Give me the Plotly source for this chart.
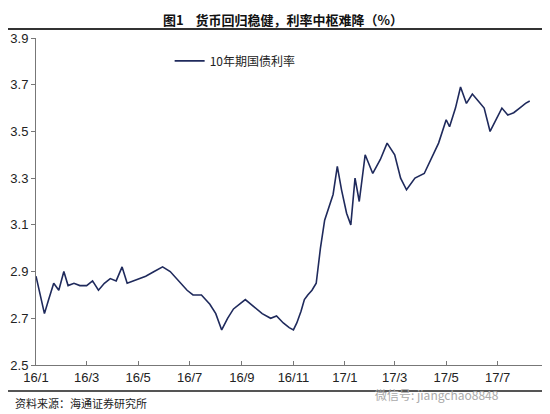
import plotly.graph_objects as go

dates = ["2016-01-01","2016-01-06","2016-01-11","2016-01-16","2016-01-22","2016-01-28","2016-02-03","2016-02-08",
"2016-02-15","2016-02-22","2016-03-01","2016-03-08","2016-03-15","2016-03-22","2016-03-29","2016-04-05",
"2016-04-12","2016-04-18","2016-04-25","2016-05-01","2016-05-10","2016-05-20","2016-05-30","2016-06-08",
"2016-06-18","2016-06-28","2016-07-05","2016-07-15","2016-07-25","2016-08-01","2016-08-08","2016-08-15",
"2016-08-22","2016-08-29","2016-09-05","2016-09-15","2016-09-25","2016-10-05","2016-10-12","2016-10-20",
"2016-10-27","2016-11-01","2016-11-05","2016-11-10","2016-11-14","2016-11-18","2016-11-23","2016-11-28",
"2016-12-03","2016-12-08","2016-12-13","2016-12-18","2016-12-23","2016-12-28","2017-01-03","2017-01-08",
"2017-01-13","2017-01-18","2017-01-25","2017-02-03","2017-02-12","2017-02-20","2017-03-01","2017-03-08",
"2017-03-15","2017-03-25","2017-04-05","2017-04-15","2017-04-22","2017-05-01","2017-05-05","2017-05-12",
"2017-05-18","2017-05-25","2017-06-01","2017-06-08","2017-06-15","2017-06-22","2017-06-29","2017-07-06",
"2017-07-13","2017-07-20","2017-07-27","2017-08-03","2017-08-08"]
values = [2.88,2.80,2.72,2.78,2.85,2.82,2.90,2.84,
2.85,2.84,2.84,2.86,2.82,2.85,2.87,2.86,
2.92,2.85,2.86,2.87,2.88,2.90,2.92,2.90,
2.86,2.82,2.80,2.80,2.76,2.72,2.65,2.70,
2.74,2.76,2.78,2.75,2.72,2.70,2.71,2.68,
2.66,2.65,2.68,2.73,2.78,2.80,2.82,2.85,
3.00,3.12,3.18,3.23,3.35,3.25,3.15,3.10,
3.30,3.20,3.40,3.32,3.38,3.45,3.40,3.30,
3.25,3.30,3.32,3.40,3.45,3.55,3.52,3.60,
3.69,3.62,3.66,3.63,3.60,3.50,3.55,3.60,
3.57,3.58,3.60,3.62,3.63]

tick_vals = ["2016-01-01","2016-03-01","2016-05-01","2016-07-01","2016-09-01","2016-11-01",
             "2017-01-01","2017-03-01","2017-05-01","2017-07-01"]
tick_text = ["16/1","16/3","16/5","16/7","16/9","16/11","17/1","17/3","17/5","17/7"]
y_ticks = [2.5,2.7,2.9,3.1,3.3,3.5,3.7,3.9]

H = 327.0  # plot height px
fig = go.Figure(go.Scatter(x=dates, y=values, mode="lines", name="10年期国债利率",
                           line=dict(color="#1f2a5c", width=1.6)))
fig.update_layout(
    width=542, height=406, margin=dict(l=28, r=0, t=30, b=49, autoexpand=False),
    paper_bgcolor="white", plot_bgcolor="white",
    font=dict(family="Noto Sans CJK SC, Liberation Sans", size=12, color="#222"),
    showlegend=True,
    legend=dict(x=0.26, y=0.93, xanchor="left", yanchor="middle", bgcolor="rgba(0,0,0,0)",
                font=dict(family="Noto Sans CJK SC", size=12)),
    xaxis=dict(type="date", range=["2016-01-01","2017-09-01"], tickvals=tick_vals, ticktext=tick_text,
               automargin=False,
               showgrid=False, showline=True, linecolor="#777", ticks="inside", ticklen=4,
               tickcolor="#777", tickfont=dict(family="Liberation Sans", size=13, color="#222")),
    yaxis=dict(range=[2.5,3.9], tickvals=y_ticks, tickformat=".1f", showgrid=False, showline=True,
               automargin=False,
               linecolor="#777", ticks="outside", ticklen=4, tickcolor="#777",
               tickfont=dict(family="Liberation Sans", size=13, color="#222")),
)
fig.add_annotation(text="<b>图1    货币回归稳健，利率中枢难降（%）</b>", xref="paper", yref="paper",
                   x=0.48, y=1.0+30/H, showarrow=False, yanchor="top",
                   font=dict(size=13, family="Noto Sans CJK SC", color="#111"))
fig.add_shape(type="line", xref="paper", yref="paper", x0=-0.06, x1=1, y0=1+(38-29)/H, y1=1+(38-29)/H,
              line=dict(color="#333", width=2))
fig.add_shape(type="line", xref="paper", yref="paper", x0=-0.06, x1=1, y0=-(391-365)/H, y1=-(391-365)/H,
              line=dict(color="#555", width=2))
fig.add_annotation(text="资料来源：海通证券研究所", xref="paper", yref="paper", x=-0.045, y=-(403-365)/H,
                   xanchor="left", yanchor="middle", showarrow=False,
                   font=dict(size=11, family="Noto Sans CJK SC", color="#222"))
fig.add_annotation(text="微信号: jiangchao8848", xref="paper", yref="paper", x=0.905, y=-(394-365)/H,
                   xanchor="right", yanchor="middle", showarrow=False,
                   font=dict(size=12, family="Noto Sans CJK SC", color="#aaa"))
fig.write_html("out.html")
